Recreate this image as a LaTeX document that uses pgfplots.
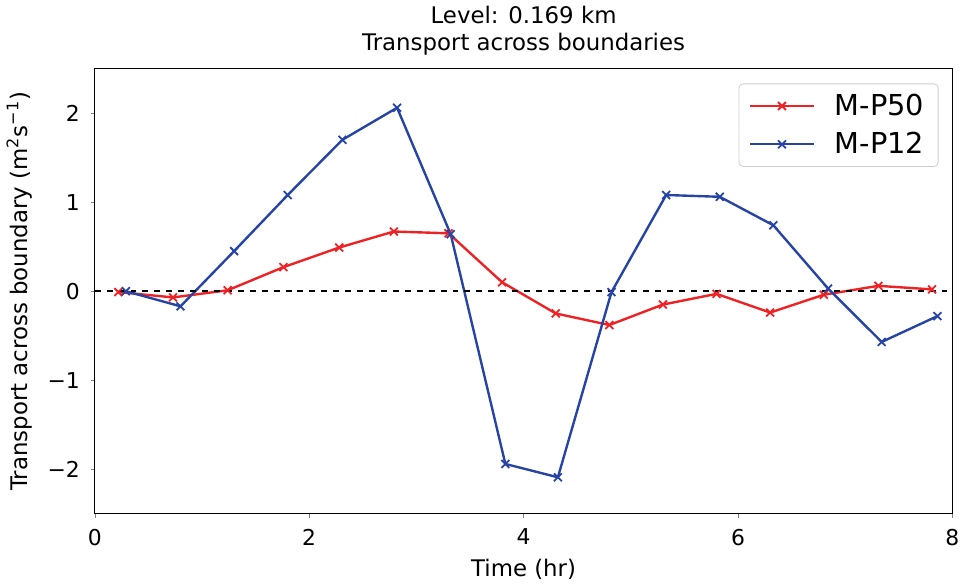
\documentclass[border=0pt]{standalone}
\usepackage{fontspec}
\setmainfont{DejaVu Sans}
\usepackage{pgfplots}
\pgfplotsset{compat=1.18}
\definecolor{mred}{RGB}{238,34,36}
\definecolor{mblue}{RGB}{38,68,165}
\begin{document}
\begin{tikzpicture}
\begin{axis}[
    scale only axis,
    width=431.5pt,
    height=224pt,
    xmin=0, xmax=8,
    ymin=-2.5, ymax=2.5,
    xtick={0,2,4,6,8},
    ytick={-2,-1,0,1,2},
    yticklabels={−2,−1,0,1,2},
    tick align=outside,
    tick pos=left,
    major tick length=2pt,
    /pgf/number format/assume math mode=true,
    tick label style={font=\fontsize{11}{13}\selectfont},
    x tick label style={yshift=-2pt},
    y tick label style={xshift=-2pt},
    label style={font=\fontsize{11.5}{13}\selectfont},
    xlabel={Time (hr)},
    ylabel={Transport across boundary (m\textsuperscript{2}s\textsuperscript{−1})},
    xlabel style={yshift=0pt},
    ylabel style={yshift=1pt},
    title={Level: 0.169 km\\Transport across boundaries},
    title style={align=center, font=\fontsize{11.5}{13.5}\selectfont, yshift=-3pt},
    axis line style={line width=0.6pt},
    legend style={at={(1,1)}, anchor=north east, xshift=-7pt, yshift=-7.5pt,
        draw=black!20, rounded corners=2pt, font=\fontsize{14.5}{17}\selectfont,
        row sep=3pt, inner xsep=5pt, inner ysep=3pt},
    legend image code/.code={
        \draw[mark repeat=2, mark phase=2, #1] plot coordinates {(0pt,0pt) (16pt,0pt) (32pt,0pt)};
        \path (40pt,0pt);},
    legend cell align=left,
]
\addplot[mred, line width=1.2pt, mark=x, mark size=2.8pt, mark options={line width=0.9pt}] coordinates {
(0.22,-0.01) (0.73,-0.07) (1.24,0.01) (1.76,0.27) (2.28,0.49) (2.79,0.67)
(3.30,0.65) (3.80,0.10) (4.30,-0.25) (4.80,-0.38) (5.30,-0.15) (5.80,-0.03)
(6.30,-0.24) (6.80,-0.04) (7.31,0.06) (7.81,0.02)};
\addlegendentry{M-P50}
\addplot[mblue, line width=1.2pt, mark=x, mark size=2.8pt, mark options={line width=0.9pt}] coordinates {
(0.29,0.00) (0.80,-0.17) (1.30,0.45) (1.80,1.08) (2.31,1.70) (2.82,2.06)
(3.32,0.64) (3.83,-1.94) (4.32,-2.09) (4.82,-0.01) (5.33,1.08) (5.83,1.06)
(6.33,0.74) (6.84,0.03) (7.34,-0.57) (7.86,-0.28)};
\addlegendentry{M-P12}
\addplot[black, dashed, line width=1pt, forget plot] coordinates {(0,0) (8,0)};
\end{axis}
\end{tikzpicture}
\end{document}
